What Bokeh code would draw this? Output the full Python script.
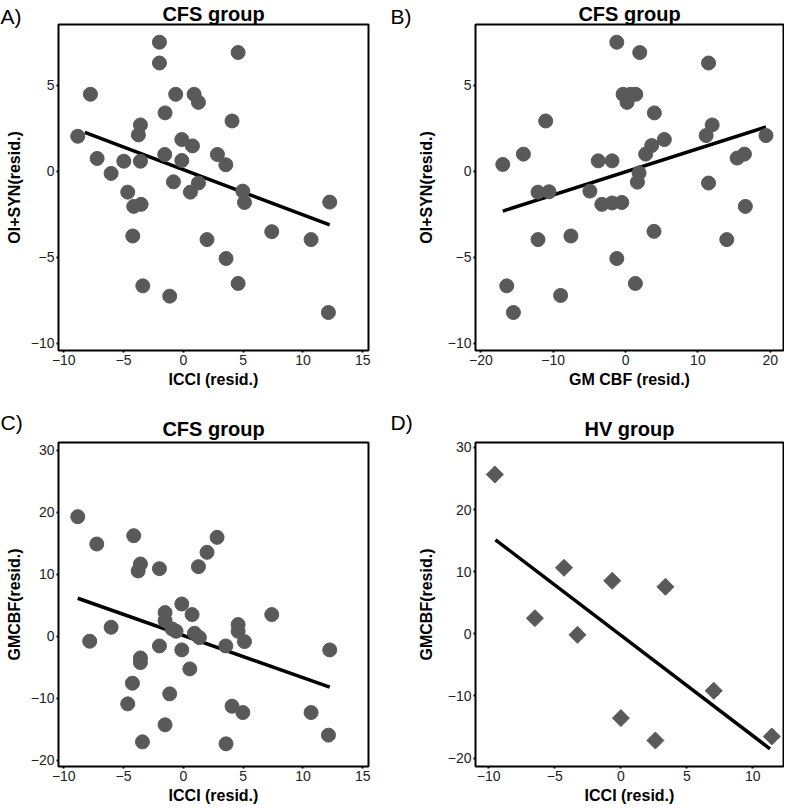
from bokeh.plotting import figure
from bokeh.layouts import column, row
from bokeh.models import Range1d, FixedTicker, Title
from bokeh.embed import file_html
from bokeh.resources import INLINE
import numpy as np

# ---------------- data ----------------
# Panel A: CFS group, ICCI (resid.) vs OI+SYN (resid.)
a_x = [-8.83, -7.77, -7.21, -6.04, -4.98, -4.65, -4.15, -3.53, -4.23, -3.76,
       -3.59, -3.59, -3.39, -2.00, -2.00, -1.53, -1.56, -1.14, -0.83, -0.64,
       -0.13, -0.13, 0.76, 0.90, 1.26, 0.59, 1.26, 1.98, 2.85, 3.55,
       3.57, 4.07, 4.58, 4.58, 4.97, 5.11, 7.39, 10.68, 12.24, 12.13]
a_y = [2.04, 4.48, 0.75, -0.12, 0.59, -1.21, -2.04, -1.92, -3.76, 2.12,
       2.70, 0.59, -6.66, 7.51, 6.30, 3.40, 0.98, -7.26, -0.61, 4.48,
       1.85, 0.63, 1.48, 4.48, 4.01, -1.21, -0.68, -3.97, 0.98, 0.38,
       -5.07, 2.93, 6.91, -6.52, -1.15, -1.81, -3.51, -3.97, -1.79, -8.21]
a_fit_x = [-8.24, 12.24]
a_fit_y = [2.27, -3.12]

# Panel B: CFS group, GM CBF (resid.) vs OI+SYN (resid.)
b_x = [-16.97, -16.42, -15.50, -14.12, -12.10, -10.58, -12.10, -11.04, -8.98, -7.55,
       -4.93, -3.78, -3.28, -1.86, -1.86, -0.52, -1.21, -1.21, -0.34, 0.21,
       0.67, 1.41, 1.96, 1.36, 1.64, 1.87, 2.78, 3.61, 3.98, 3.93,
       5.36, 11.14, 11.47, 11.97, 11.47, 13.99, 15.42, 16.43, 16.56, 19.41]
b_y = [0.40, -6.66, -8.21, 1.00, -1.21, -1.19, -3.97, 2.93, -7.22, -3.76,
       -1.15, 0.61, -1.92, 0.61, -1.84, -1.81, 7.51, -5.07, 4.48, 4.01,
       4.48, 4.48, 6.91, -6.52, -0.63, -0.09, 1.00, 1.50, 3.40, -3.49,
       1.85, 2.08, 6.30, 2.70, -0.68, -3.97, 0.77, 1.00, -2.04, 2.08]
b_fit_x = [-16.97, 19.41]
b_fit_y = [-2.31, 2.58]

# Panel C: CFS group, ICCI (resid.) vs GMCBF (resid.)
c_x = [-8.83, -7.24, -7.83, -6.04, -4.15, -3.59, -3.78, -3.59, -3.59, -4.26,
       -4.65, -3.42, -2.00, -2.00, -1.53, -1.53, -1.14, -1.53, -0.94, -0.61,
       -0.13, -0.13, 0.73, 0.93, 1.34, 0.54, 1.26, 1.98, 2.82, 3.55,
       3.57, 4.07, 4.58, 4.58, 4.97, 5.11, 7.39, 10.68, 12.24, 12.13]
c_y = [19.27, 14.87, -0.79, 1.46, 16.21, 11.65, 10.53, -3.48, -4.23, -7.55,
       -10.88, -17.00, 10.90, -1.55, 3.82, 2.53, -9.27, -14.26, 1.19, 0.82,
       5.21, -2.19, 3.50, 0.49, -0.20, -5.25, 11.22, 13.53, 15.94, -1.55,
       -17.32, -11.26, 1.89, 0.82, -12.28, -0.85, 3.50, -12.28, -2.19, -15.92]
c_fit_x = [-8.83, 12.24]
c_fit_y = [6.13, -8.20]

# Panel D: HV group, ICCI (resid.) vs GMCBF (resid.)
d_x = [-9.54, -6.50, -4.30, -3.28, -0.65, 0.01, 2.62, 3.38, 7.04, 11.43]
d_y = [25.65, 2.53, 10.63, -0.15, 8.54, -13.56, -17.16, 7.58, -9.16, -16.51]
d_fit_x = [-9.49, 11.30]
d_fit_y = [15.14, -18.50]

# ticks
a_xticks = [-10, -5, 0, 5, 10, 15]
a_yticks = [-10, -5, 0, 5]
b_xticks = [-20, -10, 0, 10, 20]
c_yticks = [-20, -10, 0, 10, 20, 30]
d_xticks = [-10, -5, 0, 5, 10]

FONT = "Liberation Sans"
PT_COLOR = "#595959"


def make_panel(letter, title, xs, ys, fx, fy, xr, yr, xt, yt, xlabel, ylabel,
               width, height, bl, br, bt, bb, title_so, letter_so, ylab_so,
               marker="circle", size=14, angle=0.0):
    p = figure(width=width, height=height, x_range=Range1d(*xr), y_range=Range1d(*yr),
               output_backend="svg", toolbar_location=None,
               min_border_left=bl, min_border_right=br,
               min_border_top=bt, min_border_bottom=bb)
    p.background_fill_color = "white"
    p.border_fill_color = "white"
    p.outline_line_color = "black"
    p.outline_line_width = 2
    p.grid.visible = False
    for ax, ticks, lab in ((p.xaxis[0], xt, xlabel), (p.yaxis[0], yt, ylabel)):
        ax.ticker = FixedTicker(ticks=ticks)
        ax.axis_label = lab
        ax.axis_label_text_font = FONT
        ax.axis_label_text_font_style = "bold"
        ax.axis_label_text_font_size = "16px"
        ax.axis_label_text_color = "black"
        ax.major_label_text_font = FONT
        ax.major_label_text_font_size = "14px"
        ax.major_label_text_color = "#222222"
        ax.major_label_standoff = 2
        ax.axis_line_color = None
        ax.major_tick_in = 0
        ax.major_tick_out = 2
        ax.major_tick_line_width = 2
        ax.major_tick_line_color = "black"
        ax.minor_tick_line_color = None
    p.xaxis[0].axis_label_standoff = 3
    p.yaxis[0].axis_label_standoff = ylab_so
    p.yaxis[0].major_label_orientation = "horizontal"

    p.line(fx, fy, line_color="black", line_width=3.5)
    p.scatter(xs, ys, marker=marker, size=size, angle=angle,
              fill_color=PT_COLOR, line_color=PT_COLOR)

    t = Title(text=title, align="center", text_font=FONT, text_font_style="bold",
              text_font_size="20px", text_color="black", standoff=title_so)
    p.add_layout(t, "above")
    t2 = Title(text=letter, align="left", offset=-bl, text_font=FONT,
               text_font_style="normal", text_font_size="21px", text_color="black",
               standoff=letter_so)
    p.add_layout(t2, "above")
    return p


pA = make_panel("A)", "CFS group", a_x, a_y, a_fit_x, a_fit_y,
                (-10.44, 15.48), (-10.42, 8.54), a_xticks, a_yticks,
                "ICCI (resid.)", "OI+SYN(resid.)", 390, 400, 58, 22, 23, 50, 0, -54, 5)
pB = make_panel("B)", "CFS group", b_x, b_y, b_fit_x, b_fit_y,
                (-20.74, 21.83), (-10.42, 8.54), b_xticks, a_yticks,
                "GM CBF (resid.)", "OI+SYN(resid.)", 394, 400, 85, 1, 23, 50, 0, -54, 10)
pC = make_panel("C)", "CFS group", c_x, c_y, c_fit_x, c_fit_y,
                (-10.44, 15.48), (-20.97, 31.22), a_xticks, c_yticks,
                "ICCI (resid.)", "GMCBF(resid.)", 390, 407, 58, 22, 42, 41, 6, -42, 5)
pD = make_panel("D)", "HV group", d_x, d_y, d_fit_x, d_fit_y,
                (-11.0, 12.32), (-21.35, 30.8), d_xticks, c_yticks,
                "ICCI (resid.)", "GMCBF(resid.)", 394, 407, 85, 1, 42, 41, 6, -42, 10,
                marker="square", size=12, angle=np.pi / 4)

layout = column(row(pA, pB), row(pC, pD))
open("out.html", "w").write(file_html(layout, INLINE))
